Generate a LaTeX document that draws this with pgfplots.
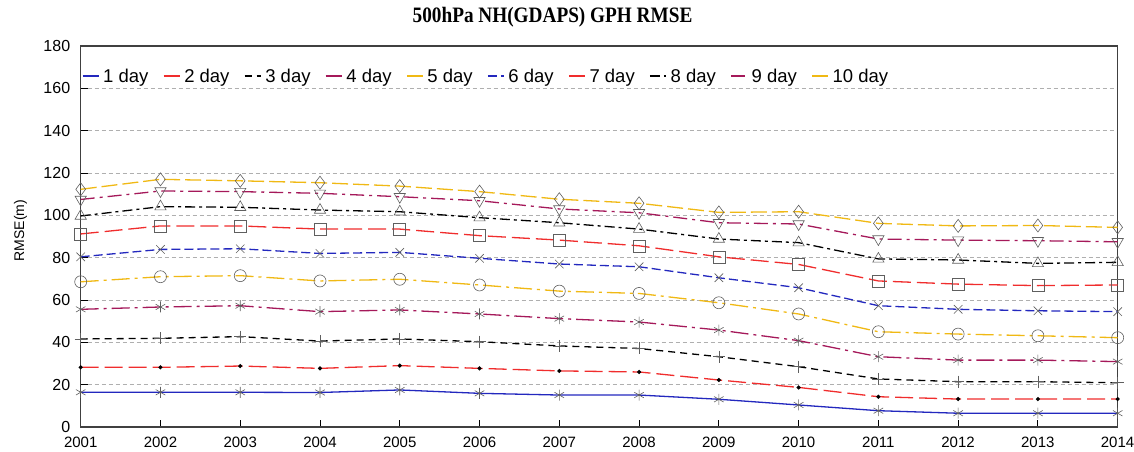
\documentclass[border=0pt]{standalone}
\usepackage{fontspec}
\setmainfont{Liberation Sans}
\newfontfamily\titlefont{Liberation Serif}
\usepackage{graphicx}
\usepackage{pgfplots}
\usepackage{pgfplotstable}
\pgfplotsset{compat=1.18}
\definecolor{cblue}{RGB}{35,40,190}
\definecolor{cred}{RGB}{240,45,45}
\definecolor{cpurp}{RGB}{165,25,90}
\definecolor{cyel}{RGB}{240,185,20}
\definecolor{mgray}{RGB}{95,95,95}
\definecolor{ggray}{RGB}{175,175,175}
\pgfplotstableread{
year d1 d2 d3 d4 d5 d6 d7 d8 d9 d10
2001 16.4 28.2 41.6 55.6 68.6 80.4 91.2 99.7 107.5 112.3
2002 16.4 28.2 41.9 56.7 71.0 83.9 95.0 104.1 111.5 117.0
2003 16.4 28.8 42.7 57.3 71.5 84.2 95.0 103.8 111.2 116.3
2004 16.3 27.7 40.6 54.5 69.0 82.0 93.5 102.5 110.4 115.4
2005 17.5 29.0 41.6 55.3 69.8 82.5 93.5 101.7 108.8 113.8
2006 15.9 27.7 40.3 53.4 67.1 79.7 90.4 98.9 106.9 111.2
2007 15.1 26.5 38.3 51.2 64.2 77.0 88.3 96.5 103.0 107.6
2008 15.1 26.0 37.1 49.6 63.1 75.7 85.6 93.5 101.2 105.7
2009 13.1 22.2 33.2 45.8 58.7 70.5 80.4 88.8 96.5 101.4
2010 10.4 18.7 28.5 40.8 53.4 65.8 76.8 87.1 95.9 101.7
2011 7.7 14.3 22.7 33.2 45.0 57.3 69.0 79.4 88.8 96.2
2012 6.5 13.2 21.4 31.6 43.9 55.6 67.5 78.9 88.3 95.0
2013 6.5 13.2 21.4 31.6 43.1 54.9 66.8 77.3 88.0 95.2
2014 6.5 13.2 20.9 30.9 42.2 54.5 67.1 77.8 87.5 94.3
}\rmse
\begin{document}
\begin{tikzpicture}
\useasboundingbox (-80.7bp,-25bp) rectangle (1053.3bp,427bp);
\begin{axis}[
  at={(0,0)}, anchor=south west,
  scale only axis, width=1037bp, height=381bp,
  xmin=2001, xmax=2014, ymin=0, ymax=180,
  xtick={2001,...,2014}, ytick={0,20,...,180},
  /pgf/number format/assume math mode=true,
  /pgf/number format/1000 sep={},
  xticklabel style={font=\fontsize{15bp}{18bp}\selectfont, yshift=-6.5bp},
  yticklabel style={font=\fontsize{16bp}{19bp}\selectfont, xshift=-7bp},
  xtick pos=bottom, ytick pos=left,
  tick align=inside, major tick length=7bp,
  tick style={black, line width=0.9bp},
  axis line style={black!75, line width=1.2bp},
  ymajorgrids, grid style={ggray, dash pattern=on 4bp off 3bp, line width=0.8bp},
  ylabel={RMSE(m)},
  ylabel style={at={(axis description cs:-0.058,0.516)}, anchor=center, font=\fontsize{14bp}{17bp}\selectfont},
  title={\scalebox{0.875}[1]{500hPa NH(GDAPS) GPH RMSE}},
  title style={at={(axis description cs:0.455,1)}, anchor=base, yshift=18bp, font=\titlefont\bfseries\fontsize{22bp}{26bp}\selectfont},
  legend style={at={(axis description cs:0,0.921)}, anchor=west, xshift=1bp,
    draw=none, fill=none, inner sep=0pt, font=\fontsize{18.5bp}{22bp}\selectfont,
    nodes={inner sep=1.5bp},
    /tikz/every odd column/.append style={column sep=2.5bp},
    /tikz/every even column/.append style={column sep=13bp}},
  legend columns=-1,
  legend image code/.code={\draw[#1,mark=none] (0bp,0bp) -- (16bp,0bp);},
  every axis plot/.append style={line width=1.3bp},
]
\addplot[cblue, mark=asterisk, mark size=5.5bp, mark options={solid, draw=mgray, line width=0.6bp}] table[x=year,y=d1] {\rmse};
\addplot[cred, dash pattern=on 18bp off 6bp, mark=*, mark size=1.3bp, mark options={solid, fill=black, draw=black}] table[x=year,y=d2] {\rmse};
\addplot[black, dash pattern=on 7bp off 5bp, mark=+, mark size=6bp, mark options={solid, draw=mgray, line width=0.6bp}] table[x=year,y=d3] {\rmse};
\addplot[cpurp, dash pattern=on 18bp off 5bp on 3bp off 5bp, mark=asterisk, mark size=5.5bp, mark options={solid, draw=mgray, line width=0.6bp}] table[x=year,y=d4] {\rmse};
\addplot[cyel, dash pattern=on 18bp off 5bp on 3bp off 5bp, mark=o, mark size=6bp, mark options={solid, draw=mgray, fill=none, line width=0.6bp}] table[x=year,y=d5] {\rmse};
\addplot[cblue, dash pattern=on 9bp off 4bp, mark=x, mark size=6bp, mark options={solid, draw=mgray, line width=0.6bp}] table[x=year,y=d6] {\rmse};
\addplot[cred, dash pattern=on 18bp off 6bp, mark=square, mark size=6bp, mark options={solid, draw=mgray, fill=none, line width=0.6bp}] table[x=year,y=d7] {\rmse};
\addplot[black, dash pattern=on 10bp off 4bp on 3bp off 4bp, mark=triangle, mark size=6.5bp, mark options={solid, draw=mgray, fill=none, line width=0.6bp}] table[x=year,y=d8] {\rmse};
\addplot[cpurp, dash pattern=on 14bp off 5bp on 3bp off 5bp, mark=triangle, mark size=6.5bp, mark options={solid, rotate=180, draw=mgray, fill=none, line width=0.6bp}] table[x=year,y=d9] {\rmse};
\addplot[cyel, dash pattern=on 16bp off 5bp, mark=diamond, mark size=6.5bp, mark options={solid, draw=mgray, fill=none, line width=0.6bp}] table[x=year,y=d10] {\rmse};
\legend{1 day, 2 day, 3 day, 4 day, 5 day, 6 day, 7 day, 8 day, 9 day, 10 day}
\end{axis}
\end{tikzpicture}
\end{document}
